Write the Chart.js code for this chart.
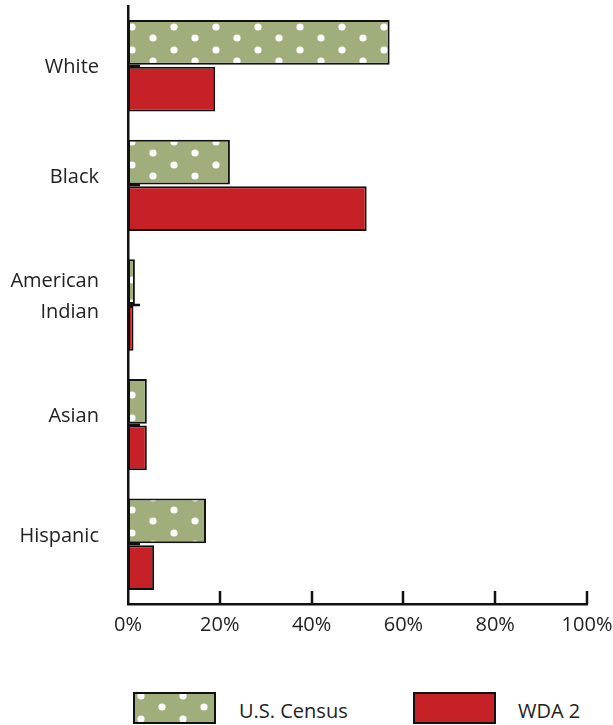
<!DOCTYPE html>
<html>
<head>
<meta charset="utf-8">
<script src="https://cdn.jsdelivr.net/npm/chart.js@4.4.1/dist/chart.umd.min.js"></script>
<style>
  html, body { margin: 0; padding: 0; background: #fff; }
  #wrap { position: relative; width: 613px; height: 725px; overflow: hidden; }
  #chart { position: absolute; left: 0; top: 0; }
  .swatch { position: absolute; top: 692px; width: 79px; height: 28px; border: 2px solid #111; }
  .lbl { position: absolute; top: 697px; line-height: 28px; font: 20px "Open Sans", sans-serif; color: #222; }
</style>
</head>
<body>
<div id="wrap">
  <canvas id="chart" width="613" height="640"></canvas>
  <div class="swatch" id="censusBox" style="left:133px"></div>
  <div class="lbl" style="left:239px">U.S. Census</div>
  <div class="swatch" style="left:413px; background:#c52127"></div>
  <div class="lbl" style="left:518px">WDA 2</div>
</div>
<script>
/* ==================== DATA ==================== */
const categories = ["White", "Black", ["American", "Indian"], "Asian", "Hispanic"];
const censusValues = [57, 22.2, 1.5, 4.1, 17];
const wdaValues = [19, 52, 1.2, 4.1, 5.7];
const xTicks = [0, 20, 40, 60, 80, 100];

const GREEN = "#9fae7a";
const RED = "#c52127";
const FONT = "20px 'Open Sans', sans-serif";

/* ==================== DOT PATTERN ==================== */
function makeDots() {
  const c = document.createElement("canvas");
  c.width = 42; c.height = 23;
  const g = c.getContext("2d");
  g.fillStyle = GREEN;
  g.fillRect(0, 0, c.width, c.height);
  g.fillStyle = "#fff";
  [[6, 4], [27, 15]].forEach(([x, y]) => {
    g.beginPath();
    g.arc(x, y, 3.6, 0, Math.PI * 2);
    g.fill();
  });
  return c;
}
const dotTile = makeDots();
document.getElementById("censusBox").style.background =
  `url(${dotTile.toDataURL()}) 0 -2px`;

// tick marks drawn inside the plot + category labels sitting a bit above centre
const axisDecor = {
  id: "axisDecor",
  afterDatasetsDraw(chart) {
    const { ctx, scales: { x, y }, chartArea: a } = chart;
    ctx.save();
    ctx.strokeStyle = "#111";
    ctx.lineWidth = 2.5;
    ctx.beginPath();
    x.ticks.forEach((t, i) => {
      if (i === 0) return;
      const px = Math.round(x.getPixelForTick(i));
      ctx.moveTo(px, a.bottom);
      ctx.lineTo(px, a.bottom - 13);
    });
    y.ticks.forEach((t, i) => {
      const py = Math.round(y.getPixelForValue(i));
      ctx.moveTo(a.left, py);
      ctx.lineTo(a.left + 12, py);
    });
    ctx.stroke();

    ctx.fillStyle = "#222";
    ctx.font = FONT;
    ctx.textAlign = "right";
    ctx.textBaseline = "middle";
    categories.forEach((lab, i) => {
      const lines = Array.isArray(lab) ? lab : [lab];
      const py = y.getPixelForValue(i) + (i === 0 ? 1 : -8);
      lines.forEach((ln, k) => {
        ctx.fillText(ln, a.left - 29, py + (k - (lines.length - 1) / 2) * 31);
      });
    });
    ctx.restore();
  }
};

const ctx = document.getElementById("chart").getContext("2d");
new Chart(ctx, {
  type: "bar",
  data: {
    labels: categories,
    datasets: [
      {
        label: "U.S. Census",
        data: censusValues,
        backgroundColor: ctx.createPattern(dotTile, "repeat"),
        borderColor: "#111",
        borderWidth: 2,
        borderSkipped: false
      },
      {
        label: "WDA 2",
        data: wdaValues,
        backgroundColor: RED,
        borderColor: "#111",
        borderWidth: 2,
        borderSkipped: false
      }
    ]
  },
  options: {
    indexAxis: "y",
    responsive: false,
    animation: false,
    barPercentage: 0.96,
    categoryPercentage: 0.78,
    layout: { padding: { top: 6, right: 26, left: 0, bottom: 0 } },
    plugins: {
      legend: { display: false },
      tooltip: { enabled: false }
    },
    scales: {
      x: {
        min: 0,
        max: 100,
        afterBuildTicks: (s) => { s.ticks = xTicks.map(v => ({ value: v })); },
        grid: { display: false },
        border: { display: true, color: "#111", width: 2.5 },
        ticks: {
          padding: 1,
          color: "#222",
          font: { family: "Open Sans", size: 20 },
          callback: (v) => v + "%"
        },
        afterFit: (s) => { s.height = 36; s.paddingLeft = 0; s.paddingRight = 0; }
      },
      y: {
        grid: { display: false },
        border: { display: true, color: "#111", width: 2.5 },
        ticks: { display: false },
        afterFit: (s) => { s.width = 128; s.paddingTop = 0; s.paddingBottom = 0; }
      }
    }
  },
  plugins: [axisDecor]
});
</script>
</body>
</html>
